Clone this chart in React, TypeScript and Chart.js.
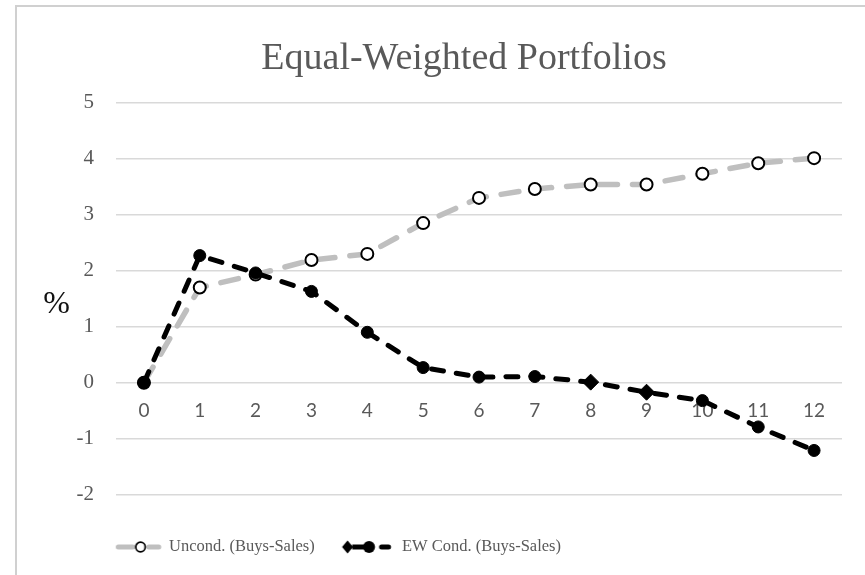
import React, { useEffect, useRef } from 'react';
import { Chart, registerables } from 'chart.js';

Chart.register(...registerables);

// ---------- data ----------
const titleText = 'Equal-Weighted Portfolios';
const axisUnit = '%';
const months = ['0', '1', '2', '3', '4', '5', '6', '7', '8', '9', '10', '11', '12'];
const uncondName = 'Uncond. (Buys-Sales)';
const ewName = 'EW Cond. (Buys-Sales)';
const uncondValues = [0, 1.7, 1.93, 2.19, 2.3, 2.85, 3.3, 3.46, 3.54, 3.54, 3.73, 3.92, 4.01];
const ewValues = [0, 2.27, 1.96, 1.63, 0.9, 0.27, 0.1, 0.11, 0.01, -0.17, -0.32, -0.79, -1.21];
const yMin = -2;
const yMax = 5;
const yStep = 1;
const unitLabelAt = 1.4;

// ---------- styles ----------
const GRAY_TEXT = '#595959';
const GRID = '#d9d9d9';
const UNCOND_LINE = '#bfbfbf';
const ewMarkerStyle = months.map((_, i) => (i === 8 || i === 9 ? 'rectRot' : 'circle'));
const ewMarkerRadius = ewMarkerStyle.map((s) => (s === 'rectRot' ? 8 : 6));

const LEGEND_FIRST_X = 116.75;
const LEGEND_DY = 9;

function makeUncondIcon(): HTMLCanvasElement {
  const c = document.createElement('canvas');
  c.width = 64;
  c.height = 16;
  const g = c.getContext('2d')!;
  g.strokeStyle = UNCOND_LINE;
  g.lineWidth = 5;
  g.lineCap = 'round';
  g.beginPath();
  g.moveTo(11.5, 8);
  g.lineTo(26, 8);
  g.moveTo(42, 8);
  g.lineTo(52, 8);
  g.stroke();
  g.beginPath();
  g.arc(33.75, 8, 4.75, 0, Math.PI * 2);
  g.fillStyle = '#fff';
  g.fill();
  g.lineWidth = 1.75;
  g.strokeStyle = '#000';
  g.stroke();
  return c;
}

function makeEwIcon(): HTMLCanvasElement {
  const c = document.createElement('canvas');
  c.width = 64;
  c.height = 16;
  const g = c.getContext('2d')!;
  g.fillStyle = '#000';
  g.strokeStyle = '#000';
  // diamond
  g.beginPath();
  g.moveTo(7.8, 1.5);
  g.lineTo(13.3, 8);
  g.lineTo(7.8, 14.5);
  g.lineTo(2.3, 8);
  g.closePath();
  g.fill();
  // connector
  g.lineWidth = 5;
  g.lineCap = 'butt';
  g.beginPath();
  g.moveTo(12.5, 8);
  g.lineTo(25, 8);
  g.stroke();
  // circle
  g.beginPath();
  g.arc(29.3, 8, 6, 0, Math.PI * 2);
  g.fill();
  // dash
  g.lineCap = 'round';
  g.beginPath();
  g.moveTo(41.8, 8);
  g.lineTo(48.8, 8);
  g.stroke();
  return c;
}

const legendShift = {
  id: 'legendShift',
  afterLayout(chart: any) {
    const lg = chart.legend;
    if (!lg) return;
    const pad = lg.options.labels.padding;
    const w = lg.right - lg.left;
    lg.left = LEGEND_FIRST_X - pad;
    lg.right = lg.left + w;
    lg.top += LEGEND_DY;
    lg.bottom += LEGEND_DY;
  },
};

export default function App() {
  const ref = useRef<HTMLCanvasElement>(null);

  useEffect(() => {
    if (!ref.current) return;
    const uncondIcon = makeUncondIcon();
    const ewIcon = makeEwIcon();

    const chart = new Chart(ref.current, {
      type: 'line',
      data: {
        labels: months,
        datasets: [
          {
            label: uncondName,
            data: uncondValues,
            borderColor: UNCOND_LINE,
            borderWidth: 5.5,
            borderDash: [18, 15],
            borderCapStyle: 'round',
            borderJoinStyle: 'round',
            pointStyle: 'circle',
            pointRadius: 6,
            pointBackgroundColor: '#ffffff',
            pointBorderColor: '#000000',
            pointBorderWidth: 2,
            tension: 0,
            order: 2,
          },
          {
            label: ewName,
            data: ewValues,
            borderColor: '#000000',
            borderWidth: 5,
            borderDash: [12, 13],
            borderCapStyle: 'round',
            borderJoinStyle: 'round',
            pointStyle: ewMarkerStyle as any,
            pointRadius: ewMarkerRadius,
            pointBackgroundColor: '#000000',
            pointBorderColor: '#000000',
            pointBorderWidth: 1,
            tension: 0,
            order: 1,
          },
        ],
      },
      options: {
        responsive: false,
        animation: false,
        devicePixelRatio: 1,
        events: [],
        layout: { padding: { top: 0, left: 0, right: 0, bottom: 18.8 } },
        scales: {
          x: {
            type: 'category',
            offset: true,
            position: { y: 0 } as any,
            grid: { display: false, drawTicks: false },
            border: { display: false },
            ticks: {
              color: GRAY_TEXT,
              font: { family: 'Lato', size: 19 },
              padding: 17,
              maxRotation: 0,
              autoSkip: false,
            },
          },
          y: {
            min: yMin,
            max: yMax,
            position: 'left',
            weight: 0,
            grid: { color: GRID, lineWidth: 1.5, drawTicks: false },
            border: { display: false },
            ticks: {
              stepSize: yStep,
              color: GRAY_TEXT,
              font: { family: 'Liberation Serif', size: 21 },
              padding: 22,
            },
            afterFit: (s: any) => {
              s.width = 46;
            },
          },
          yp: {
            min: yMin,
            max: yMax,
            position: 'left',
            weight: 1,
            grid: { display: false, drawTicks: false },
            border: { display: false },
            afterBuildTicks: (s: any) => {
              s.ticks = [{ value: unitLabelAt }];
            },
            ticks: {
              callback: () => axisUnit,
              color: '#111111',
              font: { family: 'Liberation Serif', size: 32 },
              padding: 0,
            },
            afterFit: (s: any) => {
              s.width = 70;
            },
          },
          yr: {
            min: yMin,
            max: yMax,
            position: 'right',
            grid: { display: false, drawTicks: false },
            border: { display: false },
            ticks: { display: false },
            afterFit: (s: any) => {
              s.width = 86;
            },
          },
        } as any,
        plugins: {
          title: {
            display: true,
            text: titleText,
            color: GRAY_TEXT,
            font: { family: 'Liberation Serif', size: 38, weight: 'normal' },
            padding: { top: 36.2, bottom: 20.9 },
          },
          legend: {
            display: true,
            position: 'bottom',
            align: 'start',
            labels: {
              usePointStyle: true,
              pointStyleWidth: 44,
              padding: 35,
              color: GRAY_TEXT,
              font: { family: 'Liberation Serif', size: 16.5 },
              generateLabels: () => [
                {
                  text: uncondName,
                  pointStyle: uncondIcon,
                  fillStyle: 'rgba(0,0,0,0)',
                  strokeStyle: 'rgba(0,0,0,0)',
                  lineWidth: 0,
                  hidden: false,
                  datasetIndex: 0,
                  fontColor: GRAY_TEXT,
                } as any,
                {
                  text: ewName,
                  pointStyle: ewIcon,
                  fillStyle: 'rgba(0,0,0,0)',
                  strokeStyle: 'rgba(0,0,0,0)',
                  lineWidth: 0,
                  hidden: false,
                  datasetIndex: 1,
                  fontColor: GRAY_TEXT,
                } as any,
              ],
            },
          },
          tooltip: { enabled: false },
        },
      },
      plugins: [legendShift],
    });

    return () => chart.destroy();
  }, []);

  return (
    <div
      style={{
        position: 'fixed',
        left: 0,
        top: 0,
        width: 865,
        height: 575,
        overflow: 'hidden',
        background: '#ffffff',
      }}
    >
      <div
        style={{
          position: 'absolute',
          left: 15,
          top: 5,
          width: 1000,
          height: 1000,
          borderLeft: '2px solid #d0d0d0',
          borderTop: '2px solid #d0d0d0',
        }}
      />
      <canvas
        ref={ref}
        width={928}
        height={575}
        style={{ position: 'absolute', left: 0, top: 0, width: 928, height: 575 }}
      />
    </div>
  );
}
